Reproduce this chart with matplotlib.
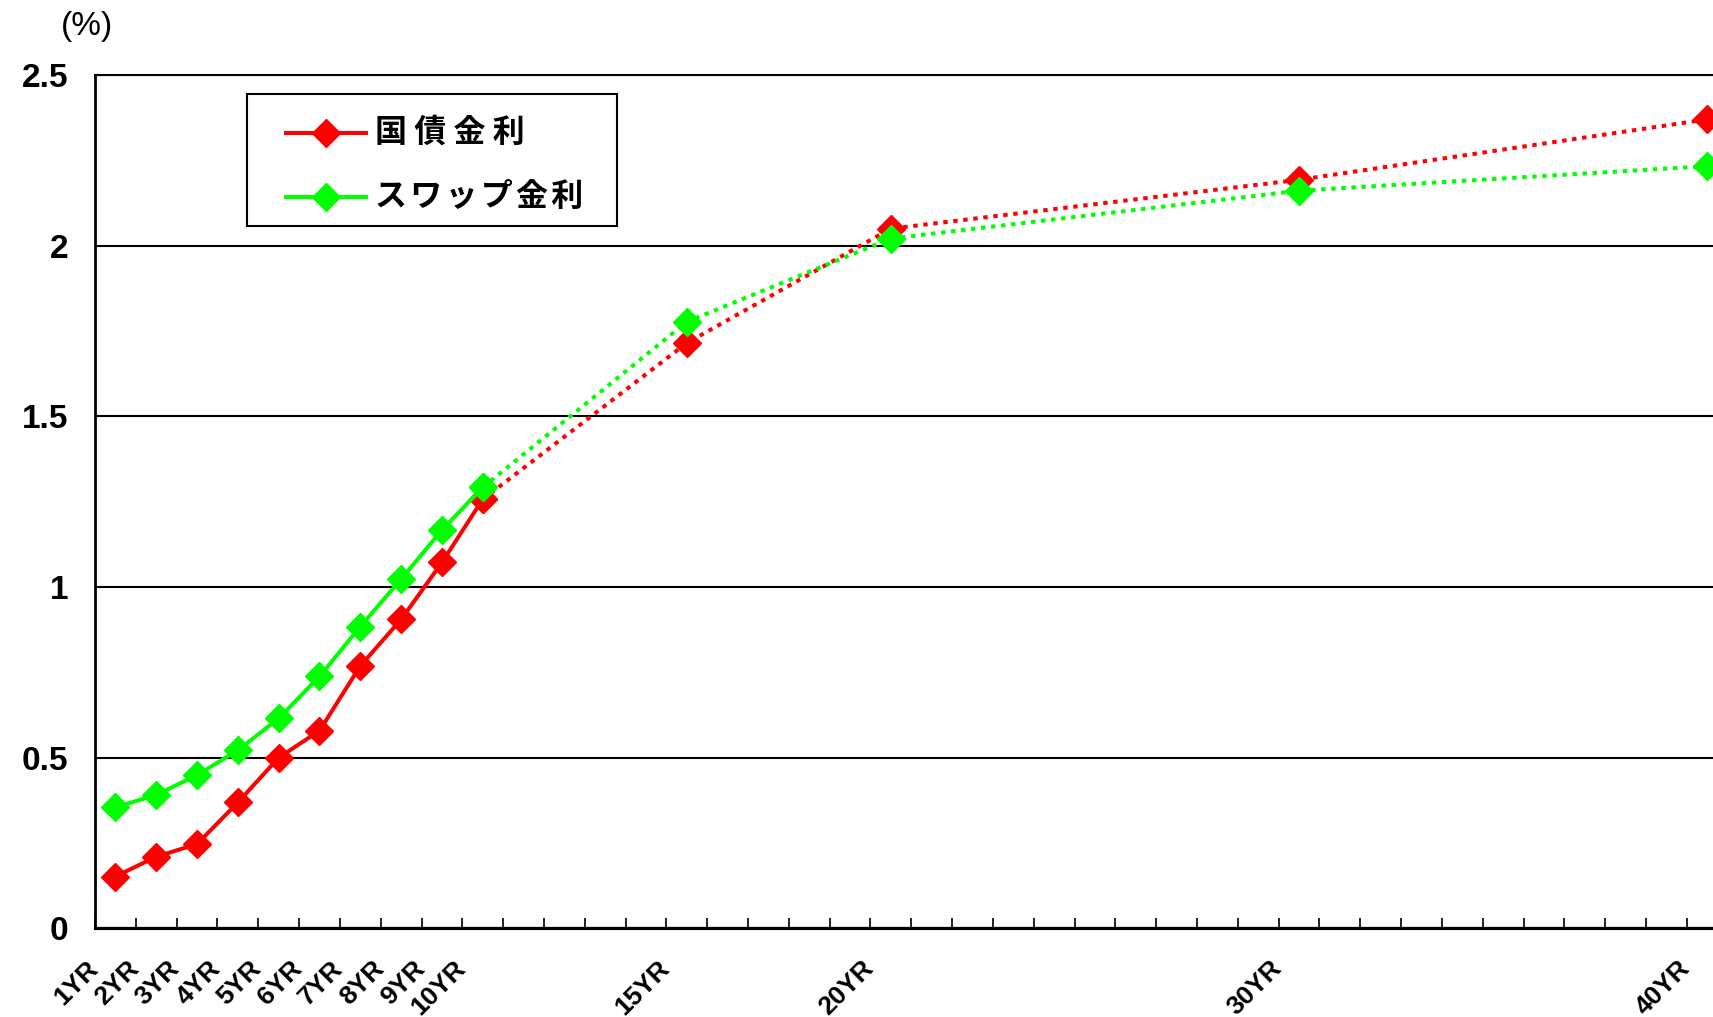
import matplotlib
matplotlib.use("Agg")
import matplotlib.pyplot as plt
from matplotlib.lines import Line2D
from matplotlib.patches import Rectangle
from matplotlib.transforms import ScaledTranslation

# maturities (years) and yields (%)
years = [1, 2, 3, 4, 5, 6, 7, 8, 9, 10, 15, 20, 30, 40]
tick_names = ["1YR", "2YR", "3YR", "4YR", "5YR", "6YR", "7YR", "8YR", "9YR", "10YR",
              "15YR", "20YR", "30YR", "40YR"]
jgb = [0.152, 0.210, 0.247, 0.369, 0.500, 0.579, 0.769, 0.905, 1.072, 1.257,
       1.715, 2.050, 2.193, 2.370]
swap = [0.355, 0.391, 0.449, 0.522, 0.615, 0.738, 0.884, 1.023, 1.167, 1.292,
        1.777, 2.021, 2.161, 2.233]
series_names = ["国 債 金 利", "ス\u200aワ\u200aッ\u200aプ\u200a金\u200a利"]
red = "#ff0000"
green = "#00ff00"

W, H, DPI = 1713, 1017, 100
fig = plt.figure(figsize=(W / DPI, H / DPI), dpi=DPI)
ax = fig.add_axes([95 / W, 1 - 928.4 / H, (1727.6 - 95) / W, (928.4 - 75) / H])

lw = 2.9
ms = 14
dots = (0, (1.1, 1.4))
n_solid = years.index(10) + 1

for vals, col in [(jgb, red), (swap, green)]:
    ax.plot(years[:n_solid], vals[:n_solid], color=col, lw=lw, marker="D",
            ms=ms, mec=col, clip_on=False, zorder=3)
    ax.plot(years[n_solid - 1:], vals[n_solid - 1:], color=col, lw=lw, ls=dots,
            marker="D", ms=ms, mec=col, clip_on=False, zorder=3)

ax.set_xlim(0.5, 40.5)
ax.set_ylim(0, 2.5)

# tick marks sit between the yearly categories, labels only on the listed maturities
ax.set_xticks([k + 0.5 for k in range(0, 41)])
ax.set_xticklabels([])
ax.tick_params(axis="x", which="major", direction="in", length=7, width=1.2)
ax.set_xticks(years, minor=True)
ax.set_xticklabels(tick_names, minor=True, rotation=45, fontsize=19,
                   fontweight="bold", family="Liberation Sans")
ax.tick_params(axis="x", which="minor", length=0, pad=0)
shift = ScaledTranslation(-16 / DPI, -41 / DPI, fig.dpi_scale_trans)
for lab in ax.xaxis.get_minorticklabels():
    lab.set_ha("right")
    lab.set_va("baseline")
    lab.set_rotation_mode("anchor")
    lab.set_transform(lab.get_transform() + shift)

ax.set_yticks([0, 0.5, 1, 1.5, 2, 2.5])
ax.set_yticklabels(["0", "0.5", "1", "1.5", "2", "2.5"], fontsize=24,
                   fontweight="bold", family="Liberation Sans")
ax.tick_params(axis="y", length=0, pad=19)
ax.grid(axis="y", color="black", lw=1.5)
ax.set_axisbelow(True)

ax.spines["left"].set_linewidth(2.0)
ax.spines["bottom"].set_linewidth(2.3)
ax.spines["top"].set_linewidth(1.5)
ax.spines["right"].set_linewidth(1.5)

fig.text(87 / W, 1 - 26 / H, "(%)", fontsize=24, ha="center", va="center",
         family="Liberation Sans")

# legend box, laid out in figure pixels
def fx(px):
    return px / W

def fy(py):
    return 1 - py / H

fig.add_artist(Rectangle((fx(247), fy(226)), fx(617) - fx(247), fy(94) - fy(226),
                         transform=fig.transFigure, fill=True, facecolor="white",
                         edgecolor="black", lw=1.5, zorder=5))
for row_y, col, name in [(133, red, series_names[0]), (197, green, series_names[1])]:
    fig.add_artist(Line2D([fx(286), fx(366)], [fy(row_y), fy(row_y)],
                          transform=fig.transFigure, color=col, lw=lw, zorder=6))
    fig.add_artist(Line2D([fx(326)], [fy(row_y)], transform=fig.transFigure,
                          color=col, marker="D", ms=ms, mec=col, zorder=7))
    fig.text(fx(375), fy(row_y), name, fontsize=23, fontweight="bold",
             family=["Noto Sans CJK JP", "DejaVu Sans"], ha="left", va="center",
             zorder=7)

fig.savefig("out.png", dpi=DPI)
